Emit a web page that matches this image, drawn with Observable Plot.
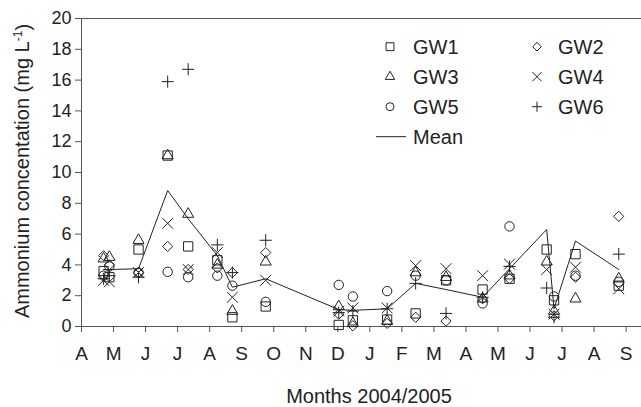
<!DOCTYPE html>
<html><head><meta charset="utf-8">
<script src="https://cdn.jsdelivr.net/npm/d3@7"></script>
<script src="https://cdn.jsdelivr.net/npm/@observablehq/plot@0.6"></script>
<style>
body{margin:0;background:#fff}
#chart{width:641px;height:407px}
</style>
</head><body><div id="chart"></div>
<script>
// Month tick labels (Apr 2004 .. Sep 2005), x measured in month index from April 2004
const monthLabels = ["A","M","J","J","A","S","O","N","D","J","F","M","A","M","J","J","A","S"];
const yTicks = [0,2,4,6,8,10,12,14,16,18,20];
// sampling dates (month index)
const dates = [0.69,0.87,1.78,2.69,3.33,4.24,4.71,5.75,8.03,8.47,9.54,10.43,11.38,12.52,13.36,14.52,14.75,15.42,16.77];
const gw1 = [3.6,3.2,5.0,11.1,5.2,4.3,0.6,1.3,0.1,0.4,0.45,0.85,3.0,2.4,3.1,5.0,1.7,4.7,2.65];
const gw2 = [4.6,4.0,3.5,5.2,3.7,3.8,3.5,4.8,0.8,0.05,0.2,0.6,0.35,1.8,3.1,null,0.7,3.2,7.15];
const gw3 = [4.4,4.5,5.6,11.1,7.3,4.0,1.0,4.2,1.3,0.2,0.35,3.5,3.2,1.8,3.3,4.2,1.0,1.8,3.1];
const gw4 = [3.0,2.9,3.5,6.7,3.7,4.8,1.9,3.0,1.0,1.2,1.2,3.95,3.75,3.3,4.05,3.7,0.8,3.85,2.45];
const gw5 = [3.3,3.9,3.5,3.55,3.2,3.3,2.65,1.6,2.7,1.95,2.3,3.3,3.0,1.5,6.5,null,1.95,3.3,2.9];
const gw6 = [3.1,3.3,3.2,15.9,16.7,5.3,3.5,5.6,0.9,1.0,1.15,2.8,0.85,1.9,3.9,2.5,0.6,null,4.7];
const meanVals = [3.7,3.7,3.75,8.83,7.0,4.6,2.55,3.1,1.1,1.05,1.15,2.8,2.4,1.9,3.75,6.3,1.15,5.55,3.7];

const seriesNames = ["GW1","GW2","GW3","GW4","GW5","GW6"];
const seriesValues = [gw1,gw2,gw3,gw4,gw5,gw6];
const plotSymbols = ["square2","diamond2","triangle2","times","circle","plus"];
const d3Symbols = [d3.symbolSquare2,d3.symbolDiamond2,d3.symbolTriangle2,d3.symbolTimes,d3.symbolCircle,d3.symbolPlus];
const symbolR = [5.9,4.6,5.3,5.0,4.7,4.0];

const ink = "#222";
const axisInk = "#555";
const font = "'Liberation Sans', Arial, sans-serif";

const rows = (vals) => dates.map((d,i)=>({x:d,y:vals[i]})).filter(r=>r.y!=null);

const marks = [
  Plot.ruleY([20], {stroke: axisInk}),
  Plot.ruleY([0], {stroke: axisInk}),
  Plot.ruleX([0], {stroke: axisInk}),
  Plot.axisY({ticks: yTicks, tickSize: 6, tickPadding: 4, fontSize: 18, stroke: axisInk, fill: ink, label: null}),
  Plot.axisX({ticks: d3.range(monthLabels.length), tickFormat: i => monthLabels[i], tickSize: 6, tickPadding: 14, fontSize: 19, stroke: axisInk, fill: ink, label: null}),
  Plot.line(rows(meanVals), {x:"x", y:"y", stroke: ink, strokeWidth: 1})
];
seriesValues.forEach((vals, k) => {
  marks.push(Plot.dot(rows(vals), {x:"x", y:"y", symbol: plotSymbols[k], r: symbolR[k], fill: "none", stroke: ink, strokeWidth: 1}));
});

const chart = Plot.plot({
  width: 641, height: 407,
  marginLeft: 81, marginRight: 0, marginTop: 18, marginBottom: 81,
  style: {fontFamily: font, fontSize: "18px", color: ink, background: "#fff"},
  x: {type: "linear", domain: [0, 17.48]},
  y: {domain: [0, 20]},
  marks
});
document.getElementById("chart").appendChild(chart);

const svg = d3.select(chart);
// Axis titles
const yl = svg.append("text")
  .attr("transform", "translate(22,171) rotate(-90)")
  .attr("text-anchor", "middle").attr("dy", "0.35em")
  .attr("font-family", font).attr("font-size", 20).attr("fill", ink);
yl.append("tspan").text("Ammonium concentation (mg L");
yl.append("tspan").attr("font-size", 12).attr("dy", "-0.6em").text("-1");
yl.append("tspan").attr("dy", "0.4em").text(")");

svg.append("text").attr("x", 369).attr("y", 396).attr("dy", "0.35em")
  .attr("text-anchor", "middle").attr("font-family", font).attr("font-size", 20).attr("fill", ink)
  .text("Months 2004/2005");

// Legend
const legendRows = [46.7, 76.7, 106.7, 136.7];
const lg = svg.append("g").attr("font-family", font).attr("font-size", 20).attr("fill", ink).attr("text-anchor", "start");
seriesNames.forEach((name, k) => {
  const col = k % 2, row = Math.floor(k / 2);
  const sx = col === 0 ? 390 : 537;
  const tx = col === 0 ? 413 : 558;
  const y = legendRows[row];
  const rr = symbolR[k] * 0.85;
  lg.append("path")
    .attr("d", d3.symbol().type(d3Symbols[k]).size(Math.PI * rr * rr)())
    .attr("transform", `translate(${sx},${y})`)
    .attr("fill", "none").attr("stroke", ink).attr("stroke-width", 1);
  lg.append("text").attr("x", tx).attr("y", y).attr("dy", "0.35em").attr("text-anchor", "start").text(name);
});
lg.append("line").attr("x1", 376).attr("x2", 406).attr("y1", legendRows[3]).attr("y2", legendRows[3])
  .attr("stroke", ink).attr("stroke-width", 1);
lg.append("text").attr("x", 413).attr("y", legendRows[3]).attr("dy", "0.35em").attr("text-anchor", "start").text("Mean");
</script>
</body></html>
